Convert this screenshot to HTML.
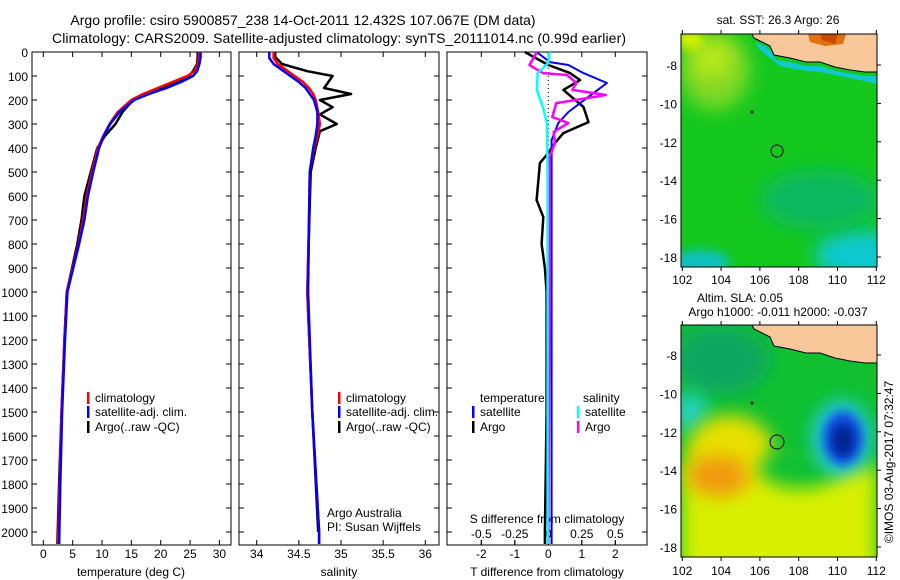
<!DOCTYPE html>
<html><head><meta charset="utf-8"><style>
html,body{margin:0;padding:0;background:#fff;}
svg{display:block;font-family:"Liberation Sans",sans-serif;}
</style></head><body>
<svg id="c" width="900" height="580" viewBox="0 0 900 580">
<defs>
<filter id="bl" x="-50%" y="-50%" width="200%" height="200%"><feGaussianBlur stdDeviation="9"/></filter>
<filter id="bl2" x="-50%" y="-50%" width="200%" height="200%"><feGaussianBlur stdDeviation="5"/></filter>
<clipPath id="m1"><rect x="681" y="34" width="196" height="233"/></clipPath>
<clipPath id="m2"><rect x="681" y="325" width="196" height="232"/></clipPath>
</defs>
<text x="303" y="25" text-anchor="middle" font-size="14">Argo profile: csiro 5900857_238 14-Oct-2011 12.432S 107.067E (DM data)</text>
<text x="339" y="43" text-anchor="middle" font-size="14" textLength="574">Climatology: CARS2009. Satellite-adjusted climatology: synTS_20111014.nc (0.99d earlier)</text>

<!-- top map -->
<g clip-path="url(#m1)">
<rect x="681" y="34" width="196" height="233" fill="#14c81e"/>
<ellipse cx="715" cy="70" rx="35" ry="40" fill="#80d828" filter="url(#bl)"/>
<ellipse cx="712" cy="60" rx="20" ry="18" fill="#b8e818" filter="url(#bl)"/>
<ellipse cx="690" cy="40" rx="14" ry="10" fill="#d8f000" filter="url(#bl2)"/>
<ellipse cx="860" cy="255" rx="45" ry="25" fill="#10c8d0" filter="url(#bl)"/>
<ellipse cx="700" cy="262" rx="30" ry="12" fill="#10c0c0" filter="url(#bl2)"/>
<ellipse cx="820" cy="200" rx="60" ry="30" fill="#10b860" filter="url(#bl)"/>
<path d="M750,34 L755,42 L765,46 L772,52 L776,60 L790,62 L806,66 L820,66 L836,71 L852,74 L866,76 L877,76 L877,84 L860,80 L840,76 L820,72 L800,70 L780,66 L770,58 L760,50 Z" fill="#10c8d0"/>
<path d="M752,34 L754,38 L762,42 L770,46 L774,55 L790,58 L806,62 L820,62 L835,67 L850,70 L865,72 L877,72 L877,34 Z" fill="#f9c89a" stroke="#000" stroke-width="1"/>
<path d="M808,34 L810,42 L825,46 L843,44 L846,34 Z" fill="#e07010"/>
<path d="M820,34 L822,40 L835,44 L838,34 Z" fill="#c84a08"/>
<circle cx="777" cy="151" r="6" fill="none" stroke="#000" stroke-width="1"/>
<circle cx="752" cy="112" r="1.5" fill="#000"/>
</g>
<rect x="681" y="34" width="196" height="233" fill="none" stroke="#000"/>
<text x="778" y="24" text-anchor="middle" font-size="12">sat. SST: 26.3 Argo: 26</text>

<!-- bottom map -->
<g clip-path="url(#m2)">
<rect x="681" y="325" width="196" height="232" fill="#10c030"/>
<ellipse cx="720" cy="360" rx="50" ry="35" fill="#10a860" filter="url(#bl)"/>
<ellipse cx="690" cy="412" rx="18" ry="20" fill="#20d0c0" filter="url(#bl)"/>
<rect x="681" y="465" width="196" height="110" fill="#d8f000" filter="url(#bl)"/>
<ellipse cx="730" cy="455" rx="45" ry="40" fill="#e8e000" filter="url(#bl)"/>
<ellipse cx="718" cy="476" rx="30" ry="20" fill="#f09810" filter="url(#bl)"/>
<ellipse cx="800" cy="468" rx="40" ry="20" fill="#10c030" filter="url(#bl)"/>
<ellipse cx="842" cy="438" rx="30" ry="38" fill="#20c8e0" filter="url(#bl)"/>
<ellipse cx="843" cy="438" rx="20" ry="27" fill="#1050e0" filter="url(#bl2)"/>
<ellipse cx="843" cy="440" rx="11" ry="16" fill="#002090" filter="url(#bl2)"/>
<path d="M752,325 L754,329 L762,333 L770,337 L774,346 L790,349 L806,353 L820,353 L835,358 L850,361 L865,363 L877,363 L877,325 Z" fill="#f9c89a" stroke="#000" stroke-width="1"/>
<circle cx="777" cy="442" r="7" fill="none" stroke="#000" stroke-width="1"/>
<circle cx="752" cy="403" r="1.5" fill="#000"/>
</g>
<rect x="681" y="325" width="196" height="232" fill="none" stroke="#000"/>
<text x="740" y="302" text-anchor="middle" font-size="12">Altim. SLA: 0.05</text>
<text x="778" y="316" text-anchor="middle" font-size="12">Argo h1000: -0.011 h2000: -0.037</text>
<text transform="translate(893,462) rotate(-90)" text-anchor="middle" font-size="12">©IMOS 03-Aug-2017 07:32:47</text>
<g id="plots"></g>
</svg>
<script>
// temperature profile data
const depthT = [0,20,50,80,100,125,150,175,200,250,300,350,400,500,600,700,800,1000,1200,1500,1800,2050];
const tempClim = [26.5,26.5,26.3,25.8,24.5,22,19.5,17,15,12.7,11.3,10.2,9.3,8.3,7.4,6.8,6.0,4.0,3.6,3.1,2.8,2.5];
const tempSat = [26.8,26.8,26.6,26.2,25.5,23.5,21,18,15.5,13,11.4,10.3,9.5,8.5,7.6,7.0,6.1,4.1,3.7,3.2,2.9,2.7];
const tempArgo = [26.3,26.3,26.2,25.5,24.8,23,20.5,17.5,15.3,13.5,12.3,10.5,9.2,8.1,7.0,6.5,5.8,4.0,3.6,3.1,2.7,2.4];
// salinity profile data
const depthS = [0,25,50,75,100,125,150,175,200,250,300,350,400,500,700,1000,1500,2000,2050];
const salClim = [34.2,34.2,34.25,34.35,34.45,34.55,34.62,34.67,34.7,34.73,34.75,34.72,34.68,34.63,34.62,34.6,34.66,34.74,34.74];
const salSat = [34.15,34.15,34.2,34.3,34.4,34.5,34.58,34.63,34.68,34.72,34.72,34.7,34.67,34.63,34.62,34.61,34.66,34.74,34.74];
const depthSA = [0,20,50,80,100,125,150,175,200,230,260,300,330,400,500,1000,1500,2000];
const salArgo = [34.22,34.22,34.3,34.6,34.9,34.85,34.8,35.12,34.75,34.9,34.75,34.95,34.75,34.7,34.64,34.6,34.66,34.73];
// difference data
const depthTDS = [0,42,54,88,129,192,250,296,367,600,1000,1500,2000,2050];
const tDiffSat = [-0.35,0.05,0.6,1.05,1.75,1.15,0.6,0.3,0.1,0.1,0.1,0.1,0.1,0.1];
const depthTDA = [0,54,88,117,158,229,292,338,379,421,463,617,688,800,900,1000,1200,1500,2000,2050];
const tDiffArgo = [-0.7,0,0.65,0.95,0.45,1.05,1.2,0.45,0.2,0,-0.25,-0.35,-0.15,-0.2,-0.1,-0.05,-0.05,-0.05,-0.1,-0.1];
const depthSDA = [0,54,88,96,129,158,179,213,271,296,333,379,437,600,1000,2000,2050];
const sDiffArgo = [-0.085,-0.14,-0.04,0.14,0.21,0.18,0.43,0.06,0.03,0.15,0.04,0.05,0.01,0.01,0.01,0.0,0.0];
const depthSDS = [0,46,88,158,229,296,500,1000,2000,2050];
const sDiffSat = [0.01,0,-0.08,-0.085,-0.04,-0.01,-0.005,-0.005,-0.005,-0.005];
// tick labels
const depthTicks = [0,100,200,300,400,500,600,700,800,900,1000,1100,1200,1300,1400,1500,1600,1700,1800,1900,2000];
const tempTicks = [0,5,10,15,20,25,30];
const salTicks = [34,34.5,35,35.5,36];
const tdTicks = [-2,-1,0,1,2];
const sdTicks = [-0.5,-0.25,0,0.25,0.5];
const lonTicks = [102,104,106,108,110,112];
const latTicks = [-8,-10,-12,-14,-16,-18];

const NS='http://www.w3.org/2000/svg';
const G=document.getElementById('plots');
function mk(tag,at,parent){const e=document.createElementNS(NS,tag);for(const k in at)e.setAttribute(k,at[k]);(parent||G).appendChild(e);return e;}
const yD=d=>52+d*0.24;
const xT=v=>43.3+v*5.87;
const xS=v=>256.7+(v-34)*84.3;
const xTD=v=>548.3+v*33.5;
const xSD=v=>548.3+v*134;
const TOP=52,BOT=545;
const panels=[[32,231],[239,439],[447,647]];
panels.forEach((p,i)=>{
  const r=mk('rect',{x:p[0],y:TOP,width:p[1]-p[0],height:BOT-TOP,fill:'none',stroke:'#000','stroke-width':1});
  
  
  depthTicks.forEach(d=>{
    const y=yD(d);
    const t=mk('path',{d:`M${p[0]},${y}h5M${p[1]},${y}h-5`,stroke:'#000'});
    
    
    if(i===0){
      const l=mk('text',{x:28,y:y+5,'text-anchor':'end','font-size':12});
      l.textContent=d;
      
      
    }
  });
});
function xticks(vals,fx,ylab,name,top){
  vals.forEach(v=>{
    const x=fx(v);
    const t=mk('path',{d:(top?`M${x},${TOP}v5`:'')+`M${x},${BOT}v-5`,stroke:'#000'});
    
    
    const l=mk('text',{x:x,y:ylab,'text-anchor':'middle','font-size':12});
    l.textContent=v;
    
    
  });
}
xticks(tempTicks,xT,558,'temperature',true);
xticks(salTicks,xS,558,'salinity',true);
xticks(tdTicks,xTD,558,'t-diff',true);
xticks(sdTicks,xSD,538,'s-diff',false);
function xlabel(x,y,s,name){const l=mk('text',{x:x,y:y,'text-anchor':'middle','font-size':12});l.textContent=s;}
xlabel(131,576,'temperature (deg C)','temperature-axis-title');
xlabel(339,576,'salinity','salinity-axis-title');
xlabel(547,576,'T difference from climatology','t-diff-axis-title');
xlabel(547,523,'S difference from climatology','s-diff-axis-title');
const zl=mk('path',{d:`M548.3,52V170`,stroke:'#000','stroke-dasharray':'1,3'});


function line(ds,vs,fx,col,name,w){
  const pts=ds.map((d,i)=>fx(vs[i]).toFixed(1)+','+yD(d).toFixed(1)).join(' ');
  const e=mk('polyline',{points:pts,fill:'none',stroke:col,'stroke-width':w||2.5,'stroke-linejoin':'round'});
  
  
}
line(depthT,tempArgo,xT,'#000','temp-argo-line');
line(depthT,tempClim,xT,'#f00','temp-climatology-line');
line(depthT,tempSat,xT,'#00f','temp-satellite-line');
line(depthSA,salArgo,xS,'#000','sal-argo-line');
line(depthS,salClim,xS,'#f00','sal-climatology-line');
line(depthS,salSat,xS,'#00f','sal-satellite-line');
line(depthTDA,tDiffArgo,xTD,'#000','tdiff-argo-line');
line(depthTDS,tDiffSat,xTD,'#00f','tdiff-satellite-line',2);
line(depthSDA,sDiffArgo,xSD,'#f0f','sdiff-argo-line');
line(depthSDS,sDiffSat,xSD,'#0ff','sdiff-satellite-line');
function leg(x,y,col,s,name){
  if(col){const b=mk('rect',{x:x,y:y-10,width:2.5,height:12,fill:col});}
  const l=mk('text',{x:x+8,y:y,'font-size':12});l.textContent=s;
}
leg(87,402,'#f00','climatology','legend-climatology');
leg(87,416,'#00f','satellite-adj. clim.','legend-satellite');
leg(87,431,'#000','Argo(..raw -QC)','legend-argo');
leg(338,402,'#f00','climatology','legend2-climatology');
leg(338,416,'#00f','satellite-adj. clim.','legend2-satellite');
leg(338,431,'#000','Argo(..raw -QC)','legend2-argo');
leg(472,402,null,'temperature','legend3-temperature');
leg(575,402,null,'salinity','legend3-salinity');
leg(472,416,'#00f','satellite','legend3-t-satellite');
leg(472,431,'#000','Argo','legend3-t-argo');
leg(577,416,'#0ff','satellite','legend3-s-satellite');
leg(577,431,'#f0f','Argo','legend3-s-argo');
leg(319,517,null,'Argo Australia','argo-australia-label');
leg(319,531,null,'PI: Susan Wijffels','pi-label');
// map axes
const xL=v=>682.3+(v-102)*19.4;
function mapAxes(y0,y1,latY0,labY){
  lonTicks.forEach(v=>{
    const x=xL(v);
    const t=mk('path',{d:`M${x},${y0}v-4M${x},${y1}v4`,stroke:'#000'});
    
    
    const l=mk('text',{x:x,y:labY,'text-anchor':'middle','font-size':12});
    l.textContent=v;
    
    
  });
  latTicks.forEach(v=>{
    const y=latY0+(-8-v)*19.2;
    const t=mk('path',{d:`M877,${y}h4`,stroke:'#000'});
    
    
    const l=mk('text',{x:677,y:y+5,'text-anchor':'end','font-size':12});
    l.textContent=v;
    
    
  });
}
mapAxes(34,267,65,284);
mapAxes(325,557,355,575);
</script>
</body></html>
